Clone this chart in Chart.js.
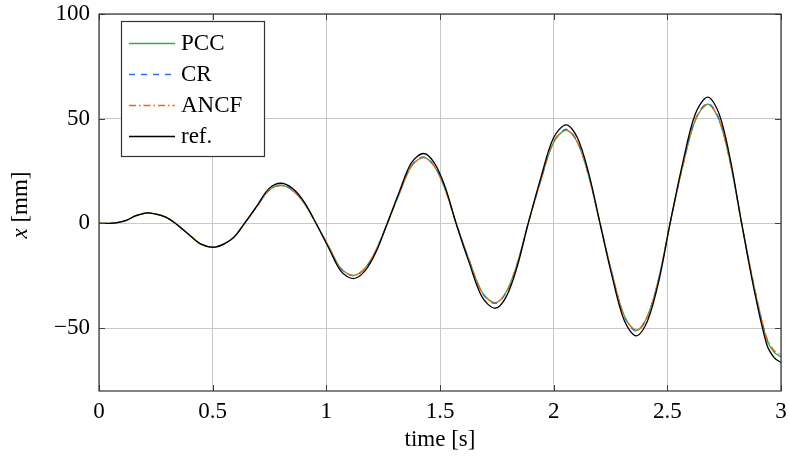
<!DOCTYPE html>
<html><head><meta charset="utf-8">
<script src="https://cdn.jsdelivr.net/npm/chart.js@4/dist/chart.umd.min.js"></script>
<style>html,body{margin:0;padding:0;background:#fff}#wrap{width:790px;height:459px}</style>
</head><body><div id="wrap"><canvas id="c" width="790" height="459"></canvas></div>
<script>
// time samples [s]
const timeS = [0, 0.04, 0.08, 0.12, 0.16, 0.19, 0.215, 0.256, 0.296, 0.337, 0.392, 0.448, 0.503, 0.549, 0.594, 0.640, 0.693, 0.747, 0.8, 0.852, 0.903, 0.955, 1.010, 1.064, 1.119, 1.169, 1.218, 1.268, 1.321, 1.374, 1.427, 1.475, 1.523, 1.571, 1.628, 1.685, 1.742, 1.791, 1.839, 1.888, 1.944, 1.999, 2.055, 2.105, 2.154, 2.204, 2.257, 2.311, 2.364, 2.413, 2.463, 2.512, 2.567, 2.623, 2.678, 2.728, 2.777, 2.827, 2.882, 2.937, 2.97, 3.0];
// x [mm] per model
const pccX = [0, 0.05, 0.4, 1.5, 3.6, 4.6, 5.0,
  4.3, 2.9, 0, -4.95, -9.79, -11.3, -9.79, -6.4, 0, 7.8, 15.76, 18.2,
  15.76, 9.6, 0, -11.0, -21.48, -24.8, -21.48, -12.9, 0, 14.2, 27.19, 31.4,
  27.19, 16.2, 0, -17.4, -32.73, -37.8, -32.73, -19.4, 0, 20.7, 38.54, 44.5,
  38.54, 22.7, 0, -24.0, -44.17, -51.0, -44.17, -25.9, 0, 27.0, 49.28, 56.9,
  49.28, 29.0, 0, -30.4, -55.34, -61.5, -63.7];
const crX = [0, 0.05, 0.4, 1.5, 3.6, 4.6, 5.0,
  4.3, 2.9, 0, -5.0, -9.87, -11.4, -9.87, -6.45, 0, 7.85, 15.85, 18.3,
  15.85, 9.7, 0, -11.1, -21.65, -25.0, -21.65, -13.0, 0, 14.4, 27.54, 31.8,
  27.54, 16.4, 0, -17.6, -33.08, -38.2, -33.08, -19.6, 0, 20.9, 38.97, 45.0,
  38.97, 22.9, 0, -24.2, -44.51, -51.4, -44.51, -26.1, 0, 27.2, 49.71, 57.4,
  49.71, 29.1, 0, -30.2, -54.73, -60.9, -63.0];
const ancfX = [0, 0.05, 0.4, 1.5, 3.6, 4.6, 5.0,
  4.3, 2.9, 0, -5.0, -9.87, -11.4, -9.87, -6.4, 0, 7.8, 15.67, 18.1,
  15.67, 9.6, 0, -11.0, -21.56, -24.9, -21.56, -12.95, 0, 14.3, 27.28, 31.5,
  27.28, 16.25, 0, -17.5, -32.91, -38.0, -32.91, -19.5, 0, 20.8, 38.62, 44.6,
  38.62, 22.8, 0, -24.1, -44.34, -51.2, -44.34, -26.0, 0, 27.0, 49.19, 56.8,
  49.19, 28.9, 0, -30.1, -54.56, -60.7, -62.8];
const refX = [0, 0.05, 0.4, 1.5, 3.6, 4.6, 5.0,
  4.3, 2.9, 0, -5.0, -9.87, -11.4, -9.87, -6.55, 0, 8.1, 16.63, 19.2,
  16.63, 10.2, 0, -11.6, -22.78, -26.3, -22.78, -13.75, 0, 15.1, 28.92, 33.4,
  28.92, 17.3, 0, -18.6, -35.07, -40.5, -35.07, -20.8, 0, 22.0, 40.79, 47.1,
  40.79, 24.0, 0, -25.3, -46.5, -53.7, -46.5, -27.3, 0, 28.6, 52.22, 60.3,
  52.22, 30.6, 0, -31.8, -57.68, -64.1, -66.4];
const seriesNames = ['PCC', 'CR', 'ANCF', 'ref.'];
const xTickVals = [0, 0.5, 1, 1.5, 2, 2.5, 3];
const yTickVals = [-50, 0, 50, 100];

const FAMILY = "'Liberation Serif', 'Times New Roman', serif";
const FS = 23;
const fmt = v => String(v).replace('-', '\u2212');
const pts = arr => timeS.map((t, i) => ({x: t, y: arr[i]}));

const styles = [
  {color: 'rgb(60,170,60)', dash: [], width: 1.3},
  {color: 'rgb(50,110,230)', dash: [6, 6], width: 1.3},
  {color: 'rgb(255,100,0)', dash: [7, 3, 1.5, 3], width: 1.3},
  {color: '#000000', dash: [], width: 1.3}
];
const seriesData = [pccX, crX, ancfX, refX];

const datasets = seriesData.map((arr, i) => ({
  label: seriesNames[i],
  data: pts(arr),
  borderColor: styles[i].color,
  borderDash: styles[i].dash,
  borderWidth: styles[i].width,
  pointRadius: 0,
  fill: false,
  tension: 0.33,
  order: 3 - i
}));

const decor = {
  id: 'decor',
  afterDatasetsDraw(chart) {
    const ctx = chart.ctx, a = chart.chartArea;
    const xs = chart.scales.x, ys = chart.scales.y;
    ctx.save();
    ctx.strokeStyle = '#404040';
    ctx.lineWidth = 1;
    ctx.beginPath();
    xTickVals.forEach(v => {
      const px = Math.round(xs.getPixelForValue(v)) + 0.5;
      ctx.moveTo(px, a.bottom); ctx.lineTo(px, a.bottom - 6);
      ctx.moveTo(px, a.top); ctx.lineTo(px, a.top + 6);
    });
    yTickVals.forEach(v => {
      const py = Math.round(ys.getPixelForValue(v)) + 0.5;
      ctx.moveTo(a.left, py); ctx.lineTo(a.left + 6, py);
      ctx.moveTo(a.right, py); ctx.lineTo(a.right - 6, py);
    });
    ctx.stroke();
    ctx.strokeStyle = '#333333';
    ctx.lineWidth = 1.2;
    ctx.strokeRect(a.left, a.top, a.right - a.left, a.bottom - a.top);

    // legend
    const lx = 121, ly = 21, lw = 143, lh = 135;
    ctx.fillStyle = '#ffffff';
    ctx.fillRect(lx, ly, lw, lh);
    ctx.strokeStyle = '#333333';
    ctx.lineWidth = 1.2;
    ctx.strokeRect(lx + 0.5, ly + 0.5, lw, lh);
    ctx.font = FS + 'px ' + FAMILY;
    ctx.textBaseline = 'alphabetic';
    ctx.textAlign = 'left';
    seriesNames.forEach((name, i) => {
      const y = 43 + i * 31;
      ctx.beginPath();
      ctx.setLineDash(styles[i].dash);
      ctx.strokeStyle = styles[i].color;
      ctx.lineWidth = styles[i].width;
      ctx.moveTo(129, y + 0.5); ctx.lineTo(175, y + 0.5);
      ctx.stroke();
      ctx.setLineDash([]);
      ctx.fillStyle = '#000';
      ctx.fillText(name, 181, y + 7);
    });

    // y-axis title: italic x + [mm]
    ctx.translate(27, 205);
    ctx.rotate(-Math.PI / 2);
    const f1 = 'italic ' + FS + 'px ' + FAMILY, f2 = FS + 'px ' + FAMILY;
    ctx.font = f1; const w1 = ctx.measureText('x').width;
    ctx.font = f2; const w2 = ctx.measureText(' [mm]').width;
    const x0 = -(w1 + w2) / 2;
    ctx.font = f1; ctx.fillText('x', x0, 0);
    ctx.font = f2; ctx.fillText(' [mm]', x0 + w1, 0);
    ctx.restore();
  }
};

new Chart(document.getElementById('c'), {
  type: 'line',
  data: {datasets},
  plugins: [decor],
  options: {
    responsive: false,
    devicePixelRatio: 1,
    animation: false,
    layout: {padding: {left: 0, right: 9, top: 14, bottom: 0}},
    plugins: {legend: {display: false}, tooltip: {enabled: false}},
    scales: {
      x: {
        type: 'linear', min: 0, max: 3,
        afterBuildTicks: s => { s.ticks = xTickVals.map(v => ({value: v})); },
        afterFit: s => { s.height = 68; s.paddingLeft = 0; s.paddingRight = 0; },
        grid: {color: '#c8c8c8', lineWidth: 1, drawTicks: false},
        border: {display: false},
        ticks: {padding: 7, color: '#000', maxRotation: 0, autoSkip: false,
                font: {family: FAMILY, size: FS}, callback: v => fmt(v)},
        title: {display: true, text: 'time [s]', color: '#000',
                font: {family: FAMILY, size: FS}, padding: {top: 0, bottom: 5}}
      },
      y: {
        type: 'linear', min: -80, max: 100,
        afterBuildTicks: s => { s.ticks = yTickVals.map(v => ({value: v})); },
        afterFit: s => { s.width = 99; s.paddingTop = 0; s.paddingBottom = 0; },
        grid: {color: '#c8c8c8', lineWidth: 1, drawTicks: false},
        border: {display: false},
        ticks: {padding: 9, color: '#000', autoSkip: false,
                font: {family: FAMILY, size: FS}, callback: v => fmt(v)}
      }
    }
  }
});
</script>
</body></html>
